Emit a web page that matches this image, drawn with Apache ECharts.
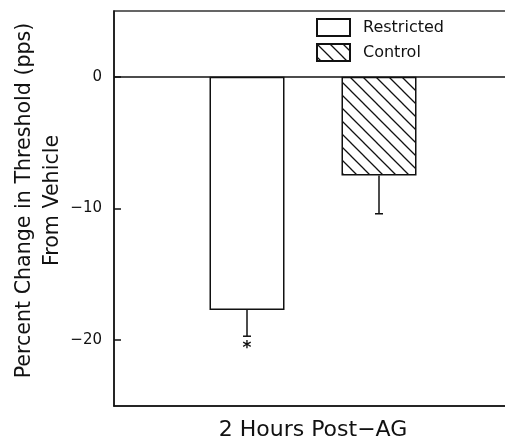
<!DOCTYPE html>
<html><head><meta charset="utf-8">
<script src="https://cdn.jsdelivr.net/npm/echarts@6/dist/echarts.min.js"></script>
<style>html,body{margin:0;padding:0;background:#fff}#c{width:505px;height:441px}</style>
</head><body><div id="c"></div>
<script>
// ---- data ----
const categories = ['2 Hours Post\u2212AG'];
const seriesNames = ['Restricted', 'Control'];
const restrictedValues = [-17.7];
const controlValues = [-7.5];
const errorValues = [2.0, 2.9];
const significance = ['*', ''];
const yTicks = [0, -10, -20];
const yMin = -25, yMax = 5;

// ---- style constants ----
const FONT = 'DejaVu Sans';
const INK = '#111';
const BAR_W = 75;
const GAP_RATIO = 0.76;
const OFFSET = BAR_W * (1 + GAP_RATIO) / 2;

function hatch() {
  const s = 13;
  const c = document.createElement('canvas');
  c.width = s; c.height = s;
  const g = c.getContext('2d');
  g.fillStyle = '#fff'; g.fillRect(0, 0, s, s);
  g.strokeStyle = '#111'; g.lineWidth = 1.3;
  g.beginPath();
  g.moveTo(-2, -2); g.lineTo(s + 2, s + 2);
  g.moveTo(s - 2, -2); g.lineTo(s + 2, 2);
  g.moveTo(-2, s - 2); g.lineTo(2, s + 2);
  g.stroke();
  return c;
}

const errData = [
  [0, restrictedValues[0], errorValues[0], 0],
  [0, controlValues[0], errorValues[1], 1]
];

const chart = echarts.init(document.getElementById('c'), null, {renderer: 'canvas'});
chart.setOption({
  animation: false,
  backgroundColor: '#fff',
  textStyle: {fontFamily: FONT, color: INK},
  grid: {left: 114, top: 11, bottom: 35, width: 398, containLabel: false, outerBoundsMode: 'none',
    show: true, borderColor: '#333', borderWidth: 1.5, backgroundColor: 'transparent'},
  legend: {
    data: seriesNames, orient: 'vertical', left: 311, top: 13,
    itemWidth: 33, itemHeight: 17, itemGap: 6, icon: 'rect',
    textStyle: {fontFamily: FONT, fontSize: 16, color: INK, padding: [0, 0, 0, 8]}
  },
  xAxis: {
    type: 'category', data: categories,
    axisLine: {onZero: false, lineStyle: {color: INK, width: 1.5}},
    axisTick: {show: false},
    axisLabel: {fontFamily: FONT, fontSize: 22, color: INK, margin: 13},
    splitLine: {show: false}
  },
  yAxis: {
    type: 'value', min: yMin, max: yMax,
    name: 'Percent Change in Threshold (pps)\nFrom Vehicle',
    nameLocation: 'middle', nameGap: 47, nameMoveOverlap: false,
    nameTextStyle: {fontFamily: FONT, fontSize: 20.6, color: INK, lineHeight: 28, padding: [0, 0, 0, 16]},
    axisLine: {show: true, lineStyle: {color: INK, width: 1.5}},
    axisTick: {show: true, inside: true, length: 7, customValues: yTicks, lineStyle: {color: INK, width: 1.5}},
    axisLabel: {customValues: yTicks, fontFamily: FONT, fontSize: 15, color: INK, margin: 12,
      formatter: v => String(v).replace('-', '\u2212')},
    splitLine: {show: false}
  },
  series: [
    {
      name: seriesNames[0], type: 'bar', data: restrictedValues,
      barWidth: BAR_W, barGap: (GAP_RATIO * 100) + '%',
      itemStyle: {color: '#fff', borderColor: INK, borderWidth: 1.5},
      markLine: {silent: true, symbol: ['none', 'none'], label: {show: false},
        lineStyle: {color: INK, width: 1.5, type: 'solid'}, data: [{yAxis: 0}]}
    },
    {
      name: seriesNames[1], type: 'bar', data: controlValues,
      barWidth: BAR_W,
      itemStyle: {color: {image: hatch(), repeat: 'repeat'}, borderColor: INK, borderWidth: 1.5}
    },
    {
      type: 'custom', coordinateSystem: 'cartesian2d', z: 5,
      data: errData, encode: {x: 0, y: 1},
      renderItem: function (params, api) {
        const cat = api.value(0), v = api.value(1), e = api.value(2), k = api.value(3);
        const cx = api.coord([cat, 0])[0] + (k === 0 ? -OFFSET : OFFSET);
        const y0 = api.coord([cat, v])[1];
        const y1 = api.coord([cat, v - e])[1];
        const st = {stroke: INK, lineWidth: 1.5};
        const children = [
          {type: 'line', shape: {x1: cx, y1: y0, x2: cx, y2: y1}, style: st},
          {type: 'line', shape: {x1: cx - 4, y1: y1, x2: cx + 4, y2: y1}, style: st}
        ];
        const sig = significance[params.dataIndex];
        if (sig) {
          children.push({type: 'text', style: {text: sig, x: cx, y: y1 + 4, align: 'center', verticalAlign: 'top',
            fontFamily: FONT, fontSize: 17, fontWeight: 'bold', fill: INK}});
        }
        return {type: 'group', children: children};
      }
    }
  ]
});
</script></body></html>
